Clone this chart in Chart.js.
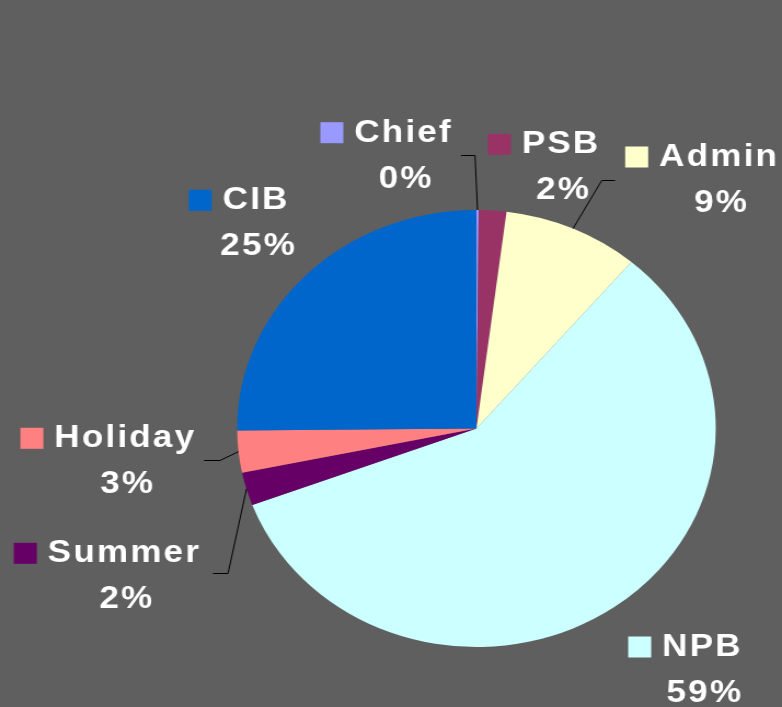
<!DOCTYPE html>
<html><head><meta charset="utf-8">
<script src="https://cdn.jsdelivr.net/npm/chart.js@4/dist/chart.umd.min.js"></script>
<style>
html,body{margin:0;padding:0;background:#5f5f5f;overflow:hidden;width:782px;height:707px;}
#wrap{position:absolute;left:0;top:0;width:714px;height:707px;transform:scaleX(1.095238);transform-origin:0 0;}
</style></head><body>
<div id="wrap"><canvas id="c" width="714" height="707"></canvas></div>
<script>
const categories = ['Chief','PSB','Admin','NPB','Summer','Holiday','CIB'];
const values = [0.15, 1.86, 9.2, 58.1, 2.45, 3.1, 25.14];
const percentLabels = ['0%','2%','9%','59%','2%','3%','25%'];
const colors = ['#9999FF','#993366','#FFFFCC','#CCFFFF','#660066','#FF8080','#0066CC'];

// layout (page pixels)
const SX = 782/714;
const labelPos = [[402.5,141.7],[560,153.3],[718,166],[701.3,656],[123.3,562.3],[124.2,447.3],[255,209.3]];
const leaders = [[[461,155],[475,155]], null, [[615,180],[601.7,180]], null, [[213,573],[228,573]], [[204,460],[220,460]], null];

const labelPlugin = {
  id: 'excelLabels',
  afterDatasetsDraw(chart) {
    const ctx = chart.ctx;
    const meta = chart.getDatasetMeta(0);
    ctx.save();
    ctx.strokeStyle = '#000';
    ctx.lineWidth = 1;
    meta.data.forEach((arc, i) => {
      const L = leaders[i];
      if (!L) return;
      const p = arc.getProps(['x','y','startAngle','endAngle','outerRadius'], true);
      const mid = (p.startAngle + p.endAngle) / 2;
      const ex = p.x + Math.cos(mid) * p.outerRadius;
      const ey = p.y + Math.sin(mid) * p.outerRadius;
      ctx.beginPath();
      ctx.moveTo(L[0][0] / SX, L[0][1] + 0.5);
      ctx.lineTo(L[1][0] / SX, L[1][1] + 0.5);
      ctx.lineTo(ex, ey);
      ctx.stroke();
    });
    ctx.font = 'bold 32px "Liberation Sans", Arial, sans-serif';
    ctx.letterSpacing = '2px';
    ctx.textAlign = 'left';
    ctx.textBaseline = 'alphabetic';
    categories.forEach((name, i) => {
      const cx = labelPos[i][0] / SX, by = labelPos[i][1];
      const w = ctx.measureText(name).width - 2;
      const left = cx - w / 2;
      ctx.fillStyle = '#fff';
      ctx.fillText(name, left, by);
      ctx.fillStyle = colors[i];
      ctx.fillRect(left - 10 - 21, by - 19.5, 21, 21);
      ctx.fillStyle = '#fff';
      const pt = percentLabels[i];
      const pw = ctx.measureText(pt).width - 2;
      ctx.fillText(pt, cx + 2.5 / SX - pw / 2, by + 46);
    });
    ctx.restore();
  }
};

new Chart(document.getElementById('c'), {
  type: 'pie',
  data: {
    labels: categories,
    datasets: [{ data: values, backgroundColor: colors, borderWidth: 0 }]
  },
  options: {
    responsive: false,
    animation: false,
    events: [],
    layout: { padding: { left: 216.5, right: 60.5, top: 210, bottom: 60 } },
    plugins: { legend: { display: false }, tooltip: { enabled: false } }
  },
  plugins: [labelPlugin]
});
</script>
</body></html>
